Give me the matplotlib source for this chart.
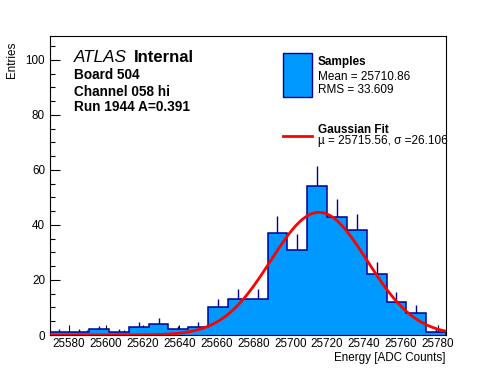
import numpy as np
import matplotlib
matplotlib.use("Agg")
import matplotlib.pyplot as plt
from matplotlib.patches import Rectangle
from matplotlib.lines import Line2D
from matplotlib.ticker import MultipleLocator

plt.rcParams['font.family'] = ['Liberation Sans', 'DejaVu Sans']

# histogram (20 bins)
xlo, xhi = 25569.6, 25784.4
counts = [1, 1, 2, 1, 3, 4, 2, 3, 10, 13, 13, 37, 31, 54, 43, 38, 22, 12, 8, 1]

# gaussian fit
mu = 25715.56
sigma = 26.106
amp = 44.6

W, H = 496, 372
fig = plt.figure(figsize=(W / 100, H / 100), dpi=100)

def fpos(x, y):
    # pixel position -> figure fraction
    return x / W, 1 - y / H

ax = fig.add_axes([49.5 / W, 1 - 335 / H, (446 - 49.5) / W, (335 - 36) / H])

edges = np.linspace(xlo, xhi, len(counts) + 1)
centers = 0.5 * (edges[:-1] + edges[1:])
counts = np.array(counts, dtype=float)

navy = '#000099'
ax.errorbar(centers, counts, yerr=np.sqrt(counts), fmt='none', ecolor=navy,
            elinewidth=1.0, capsize=0, zorder=1)
ax.stairs(counts, edges, fill=True, facecolor='#0099ff', edgecolor='none', zorder=2)
ax.stairs(counts, edges, fill=False, edgecolor=navy, linewidth=1.1, zorder=3)

xs = np.linspace(xlo, xhi, 500)
ax.plot(xs, amp * np.exp(-0.5 * ((xs - mu) / sigma) ** 2), color='red', lw=2.0, zorder=4)

ax.set_xlim(xlo, xhi)
ax.set_ylim(0, 108.7)
ax.xaxis.set_major_locator(MultipleLocator(20))
ax.xaxis.set_minor_locator(MultipleLocator(10))
ax.yaxis.set_major_locator(MultipleLocator(20))
ax.yaxis.set_minor_locator(MultipleLocator(5))
ax.tick_params(which='both', direction='in', top=False, right=False, labelsize=8.4)
ax.tick_params(axis='x', pad=2.0)
ax.tick_params(axis='y', pad=3.3)
ax.tick_params(which='major', length=7.2, width=0.8)
ax.tick_params(which='minor', length=3.6, width=0.8)
for s in ax.spines.values():
    s.set_linewidth(0.8)

# axis titles
fig.text(*fpos(446, 361), 'Energy [ADC Counts]', ha='right', va='baseline', fontsize=8.4)
fig.text(*fpos(12, 42), 'Entries', rotation=90, ha='center', va='top', fontsize=8.4)

# ATLAS label block
fig.text(*fpos(74.3, 62.3), 'ATLAS', style='italic', fontsize=12.3, va='baseline')
fig.text(*fpos(134.3, 62.3), 'Internal', weight='bold', fontsize=12, va='baseline')
fig.text(*fpos(74.3, 79), 'Board 504', weight='bold', fontsize=9.8, va='baseline')
fig.text(*fpos(74.3, 95.7), 'Channel 058 hi', weight='bold', fontsize=9.8, va='baseline')
fig.text(*fpos(74.3, 111), 'Run 1944 A=0.391', weight='bold', fontsize=9.8, va='baseline')

# legend
x0, y0 = fpos(283.3, 96.7)
x1, y1 = fpos(311.7, 53.3)
fig.add_artist(Rectangle((x0, y0), x1 - x0, y1 - y0, transform=fig.transFigure,
                         facecolor='#0099ff', edgecolor=navy, lw=1.0))
lx0, ly = fpos(283.3, 136)
lx1, _ = fpos(311.7, 136)
fig.add_artist(Line2D([lx0, lx1], [ly, ly], transform=fig.transFigure, color='red', lw=2.0))
fig.text(*fpos(317.7, 65), 'Samples', weight='bold', fontsize=8.5, va='baseline')
fig.text(*fpos(317.7, 80), 'Mean = 25710.86', fontsize=8.5, va='baseline')
fig.text(*fpos(317.7, 93.3), 'RMS = 33.609', fontsize=8.5, va='baseline')
fig.text(*fpos(317.7, 132.7), 'Gaussian Fit', weight='bold', fontsize=8.5, va='baseline')
fig.text(*fpos(317.7, 144), 'µ = 25715.56, σ =26.106', fontsize=8.5, va='baseline')

fig.savefig('out.png', dpi=100)
